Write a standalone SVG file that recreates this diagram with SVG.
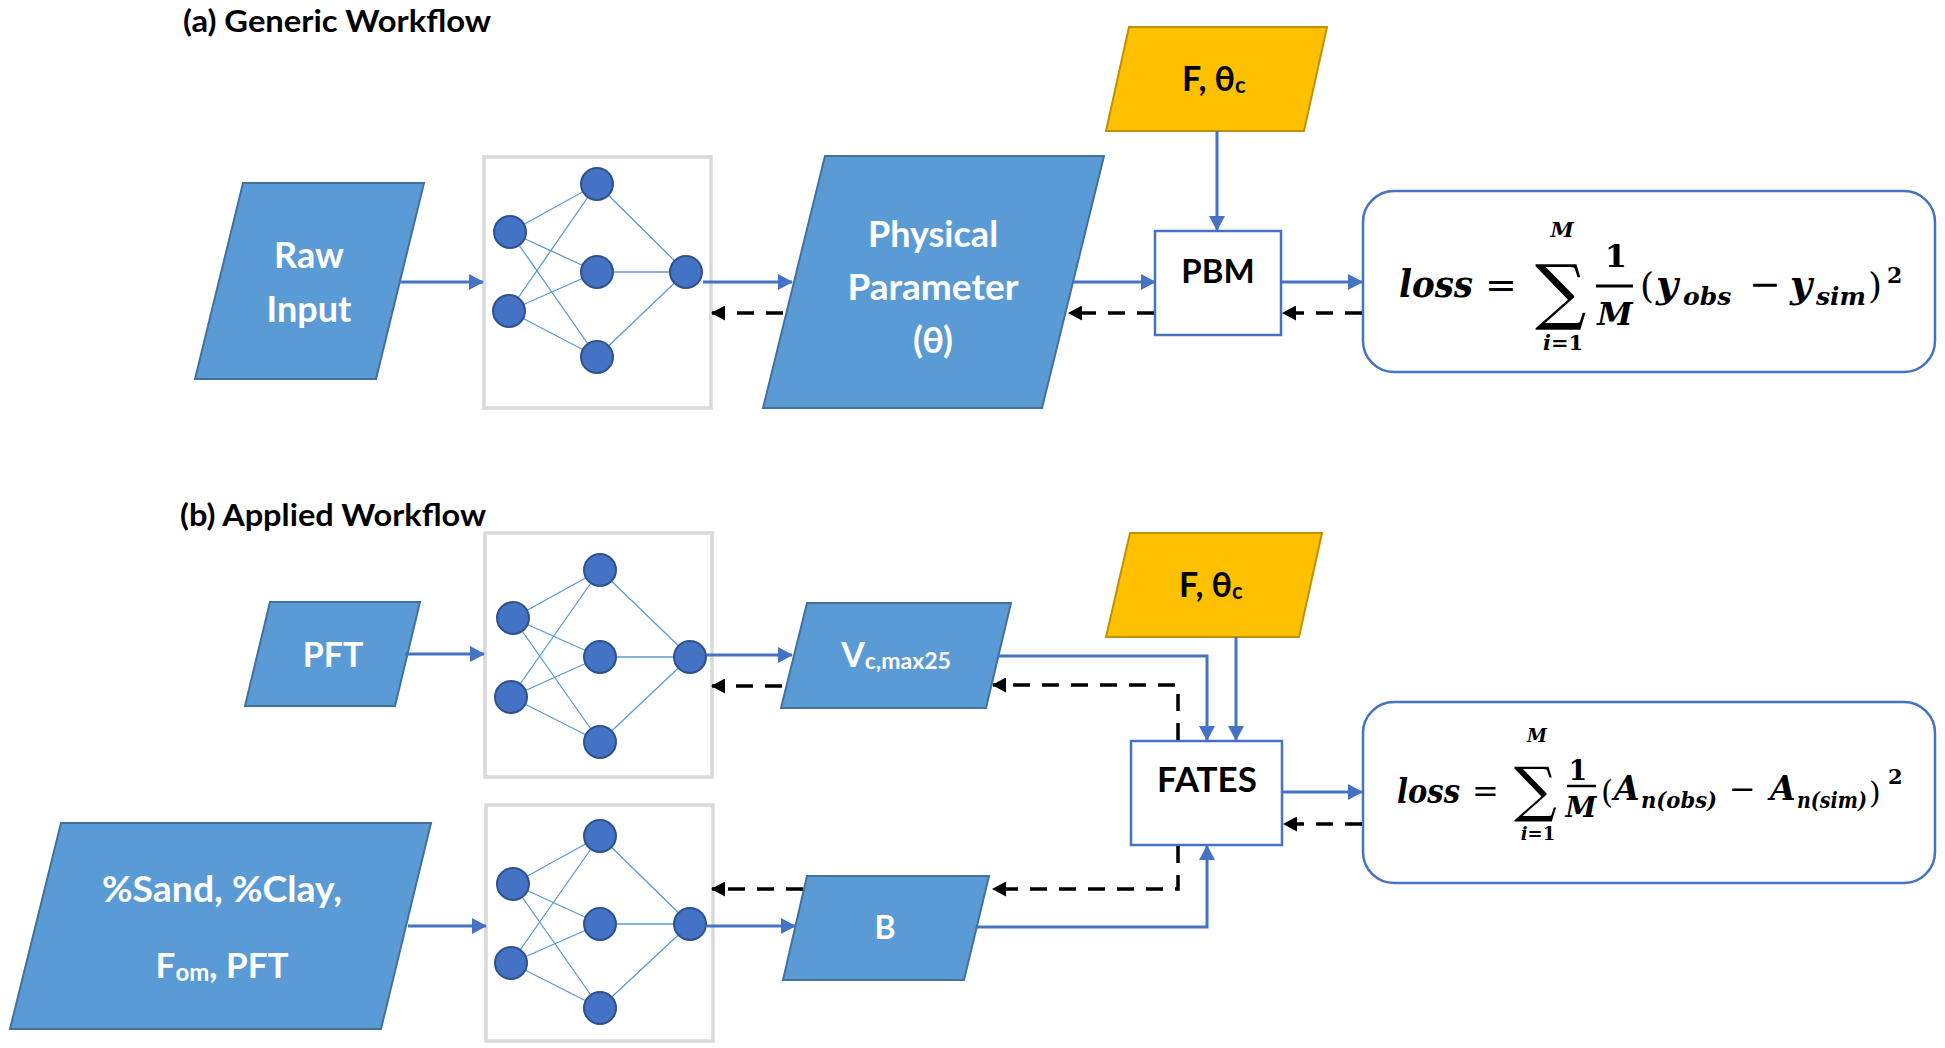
<svg xmlns="http://www.w3.org/2000/svg" width="1945" height="1048" viewBox="0 0 1945 1048">
<defs>
<style>
.para{fill:#5b9bd5;stroke:#41719c;stroke-width:2}
.gold{fill:#ffc000;stroke:#bf9000;stroke-width:2}
.box{fill:#ffffff;stroke:#4472c4;stroke-width:2.5}
.loss{fill:#ffffff;stroke:#4472c4;stroke-width:2.5}
.nnbox{fill:#ffffff;stroke:#d9d9d9;stroke-width:3.5}
.nnl{stroke:#5b9bd5;stroke-width:1.3;fill:none}
.nd{fill:#4472c4;stroke:#2f528f;stroke-width:2}
.w{font-family:Lato,"Liberation Sans",sans-serif;font-weight:700;fill:#ffffff;text-anchor:middle}
.k{font-family:Lato,"Liberation Sans",sans-serif;font-weight:700;fill:#000000}
.kc{font-family:Lato,"Liberation Sans",sans-serif;font-weight:700;fill:#000000;text-anchor:middle}
.sol{stroke:#4472c4;stroke-width:3;fill:none}
.dsh{stroke:#000000;stroke-width:3.5;fill:none;stroke-dasharray:17 12}
.mi{font-family:"DejaVu Serif","Liberation Serif",serif;font-style:italic;font-weight:700;fill:#000}
.mu{font-family:"DejaVu Serif","Liberation Serif",serif;fill:#000}
.mb{font-family:"DejaVu Serif","Liberation Serif",serif;font-weight:700;fill:#000}
</style>
<marker id="ab" viewBox="0 0 15 16" markerWidth="15" markerHeight="16" refX="14" refY="8" orient="auto" markerUnits="userSpaceOnUse"><path d="M0,0 L15,8 L0,16 Z" fill="#4472c4"/></marker>
<marker id="ak" viewBox="0 0 14 15" markerWidth="14" markerHeight="15" refX="13" refY="7.5" orient="auto" markerUnits="userSpaceOnUse"><path d="M0,0 L14,7.5 L0,15 Z" fill="#000000"/></marker>
</defs>
<rect width="1945" height="1048" fill="#ffffff"/>

<text class="k" x="183" y="32" font-size="30" textLength="308" lengthAdjust="spacingAndGlyphs">(a)  Generic Workflow</text>
<text class="k" x="180" y="526" font-size="30" textLength="306" lengthAdjust="spacingAndGlyphs">(b) Applied Workflow</text>

<g id="raw-input">
<polygon class="para" points="243,183 424,183 376,379 195,379"/>
<text class="w" x="309" y="268" font-size="36">Raw</text>
<text class="w" x="309" y="322" font-size="36">Input</text>
</g>

<g id="nn1">
<rect class="nnbox" x="484" y="157" width="227" height="251"/>
<path class="nnl" d="M510,232 L597,184 M510,232 L597,272 M510,232 L597,357 M509,311 L597,184 M509,311 L597,272 M509,311 L597,357 M597,184 L686,272 M597,272 L686,272 M597,357 L686,272"/>
<circle class="nd" cx="510" cy="232" r="16"/><circle class="nd" cx="509" cy="311" r="16"/>
<circle class="nd" cx="597" cy="184" r="16"/><circle class="nd" cx="597" cy="272" r="16"/><circle class="nd" cx="597" cy="357" r="16"/>
<circle class="nd" cx="686" cy="272" r="16"/>
</g>

<g id="physical-parameter">
<polygon class="para" points="825,156 1104,156 1042,408 763,408"/>
<text class="w" x="933" y="247" font-size="36">Physical</text>
<text class="w" x="933" y="300" font-size="37">Parameter</text>
<text class="w" x="933" y="353" font-size="36">(θ)</text>
</g>

<g id="forcing-a">
<polygon class="gold" points="1129,27 1327,27 1304,131 1106,131"/>
<text class="k" x="1182" y="91" font-size="34">F, θ<tspan font-size="22" dy="2">c</tspan></text>
</g>

<g id="pbm">
<rect class="box" x="1155" y="231" width="126" height="104"/>
<text class="kc" x="1218" y="283" font-size="33">PBM</text>
</g>

<g id="loss-a">
<rect class="loss" x="1363" y="191" width="572" height="181" rx="31"/>
<text class="mi" x="1399" y="297" font-size="38" textLength="74" lengthAdjust="spacingAndGlyphs">loss</text>
<text class="mu" x="1485" y="298" font-size="38">=</text>
<text class="mu" x="1535" y="316" font-size="72">∑</text>
<text class="mi" x="1562" y="237" font-size="21" text-anchor="middle">M</text>
<text class="mi" x="1563" y="350" font-size="21" text-anchor="middle">i<tspan class="mb" font-style="normal">=1</tspan></text>
<text class="mb" x="1616" y="267" font-size="32" text-anchor="middle">1</text>
<line x1="1596" y1="286" x2="1633" y2="286" stroke="#000" stroke-width="3"/>
<text class="mi" x="1615" y="325" font-size="32" text-anchor="middle">M</text>
<text class="mu" x="1640" y="298" font-size="36">(</text>
<text class="mi" x="1656" y="297" font-size="38">y</text>
<text class="mi" x="1683" y="305" font-size="25">obs</text>
<text class="mu" x="1749" y="297" font-size="38">−</text>
<text class="mi" x="1790" y="297" font-size="38">y</text>
<text class="mi" x="1816" y="305" font-size="25">sim</text>
<text class="mu" x="1868" y="298" font-size="36">)</text>
<text class="mb" x="1887" y="283" font-size="22">2</text>
</g>

<g id="pft">
<polygon class="para" points="270,602 420,602 395,706 245,706"/>
<text class="w" x="333" y="667" font-size="34">PFT</text>
</g>

<g id="soil-input">
<polygon class="para" points="61,823 431,823 381,1029 10,1029"/>
<text class="w" x="222" y="902" font-size="36" textLength="240" lengthAdjust="spacingAndGlyphs">%Sand, %Clay,</text>
<text class="w" x="222" y="978" font-size="35">F<tspan font-size="24" dy="3">om</tspan><tspan dy="-3">, PFT</tspan></text>
</g>

<g id="nn2">
<rect class="nnbox" x="485" y="533" width="227" height="244"/>
<path class="nnl" d="M513,618 L600,570 M513,618 L600,657 M513,618 L600,742 M511,697 L600,570 M511,697 L600,657 M511,697 L600,742 M600,570 L690,657 M600,657 L690,657 M600,742 L690,657"/>
<circle class="nd" cx="513" cy="618" r="16"/><circle class="nd" cx="511" cy="697" r="16"/>
<circle class="nd" cx="600" cy="570" r="16"/><circle class="nd" cx="600" cy="657" r="16"/><circle class="nd" cx="600" cy="742" r="16"/>
<circle class="nd" cx="690" cy="657" r="16"/>
</g>

<g id="nn3">
<rect class="nnbox" x="486" y="805" width="227" height="236"/>
<path class="nnl" d="M513,884 L600,836 M513,884 L600,924 M513,884 L600,1008 M511,963 L600,836 M511,963 L600,924 M511,963 L600,1008 M600,836 L690,924 M600,924 L690,924 M600,1008 L690,924"/>
<circle class="nd" cx="513" cy="884" r="16"/><circle class="nd" cx="511" cy="963" r="16"/>
<circle class="nd" cx="600" cy="836" r="16"/><circle class="nd" cx="600" cy="924" r="16"/><circle class="nd" cx="600" cy="1008" r="16"/>
<circle class="nd" cx="690" cy="924" r="16"/>
</g>

<g id="vcmax">
<polygon class="para" points="807,603 1011,603 986,708 781,708"/>
<text class="w" x="896" y="667" font-size="34">V<tspan font-size="23" dy="2">c,max25</tspan></text>
</g>

<g id="b-param">
<polygon class="para" points="807,876 989,876 964,980 783,980"/>
<text class="w" x="885" y="939" font-size="32">B</text>
</g>

<g id="forcing-b">
<polygon class="gold" points="1130,533 1322,533 1299,637 1106,637"/>
<text class="k" x="1179" y="597" font-size="34">F, θ<tspan font-size="22" dy="2">c</tspan></text>
</g>

<g id="fates">
<rect class="box" x="1131" y="741" width="151" height="104"/>
<text class="kc" x="1207" y="792" font-size="35">FATES</text>
</g>

<g id="loss-b">
<rect class="loss" x="1363" y="702" width="572" height="181" rx="31"/>
<text class="mi" x="1397" y="803" font-size="33" textLength="63" lengthAdjust="spacingAndGlyphs">loss</text>
<text class="mu" x="1472" y="802" font-size="32">=</text>
<text class="mu" x="1514" y="810" font-size="60">∑</text>
<text class="mi" x="1537" y="742" font-size="18" text-anchor="middle">M</text>
<text class="mi" x="1538" y="840" font-size="18" text-anchor="middle">i<tspan class="mb" font-style="normal">=1</tspan></text>
<text class="mb" x="1578" y="780" font-size="27" text-anchor="middle">1</text>
<line x1="1567" y1="786" x2="1596" y2="786" stroke="#000" stroke-width="2.5"/>
<text class="mi" x="1581" y="817" font-size="28" text-anchor="middle">M</text>
<text class="mu" x="1601" y="803" font-size="31">(</text>
<text class="mi" x="1614" y="800" font-size="33">A</text>
<text class="mi" x="1641" y="808" font-size="22" textLength="76" lengthAdjust="spacingAndGlyphs">n(obs)</text>
<text class="mu" x="1729" y="800" font-size="32">−</text>
<text class="mi" x="1770" y="800" font-size="33">A</text>
<text class="mi" x="1797" y="808" font-size="22" textLength="70" lengthAdjust="spacingAndGlyphs">n(sim)</text>
<text class="mu" x="1869" y="803" font-size="30">)</text>
<text class="mb" x="1888" y="784" font-size="21">2</text>
</g>

<g id="connectors">
<line class="sol" x1="400" y1="282" x2="483" y2="282" marker-end="url(#ab)"/>
<line class="sol" x1="703" y1="282" x2="792" y2="282" marker-end="url(#ab)"/>
<line class="sol" x1="1073" y1="282" x2="1155" y2="282" marker-end="url(#ab)"/>
<line class="sol" x1="1281" y1="282" x2="1362" y2="282" marker-end="url(#ab)"/>
<line class="sol" x1="1217" y1="131" x2="1217" y2="230" marker-end="url(#ab)"/>
<line class="dsh" x1="1362" y1="313" x2="1283" y2="313" marker-end="url(#ak)"/>
<line class="dsh" x1="1154" y1="313" x2="1069" y2="313" marker-end="url(#ak)"/>
<line class="dsh" x1="783" y1="313" x2="712" y2="313" marker-end="url(#ak)"/>

<line class="sol" x1="405" y1="654" x2="484" y2="654" marker-end="url(#ab)"/>
<line class="sol" x1="707" y1="655" x2="792" y2="655" marker-end="url(#ab)"/>
<path class="sol" d="M998,656 H1207 V740" marker-end="url(#ab)"/>
<line class="sol" x1="1236" y1="637" x2="1236" y2="740" marker-end="url(#ab)"/>
<line class="sol" x1="1282" y1="792" x2="1362" y2="792" marker-end="url(#ab)"/>
<line class="sol" x1="408" y1="926" x2="486" y2="926" marker-end="url(#ab)"/>
<line class="sol" x1="707" y1="926" x2="795" y2="926" marker-end="url(#ab)"/>
<path class="sol" d="M977,927 H1207 V846" marker-end="url(#ab)"/>
<line class="dsh" x1="1362" y1="824" x2="1284" y2="824" marker-end="url(#ak)"/>
<path class="dsh" d="M1178,740 V685 H993" marker-end="url(#ak)"/>
<line class="dsh" x1="782" y1="686" x2="712" y2="686" marker-end="url(#ak)"/>
<path class="dsh" d="M1178,846 V889 H993" marker-end="url(#ak)"/>
<line class="dsh" x1="803" y1="889" x2="712" y2="889" marker-end="url(#ak)"/>
</g>
</svg>
